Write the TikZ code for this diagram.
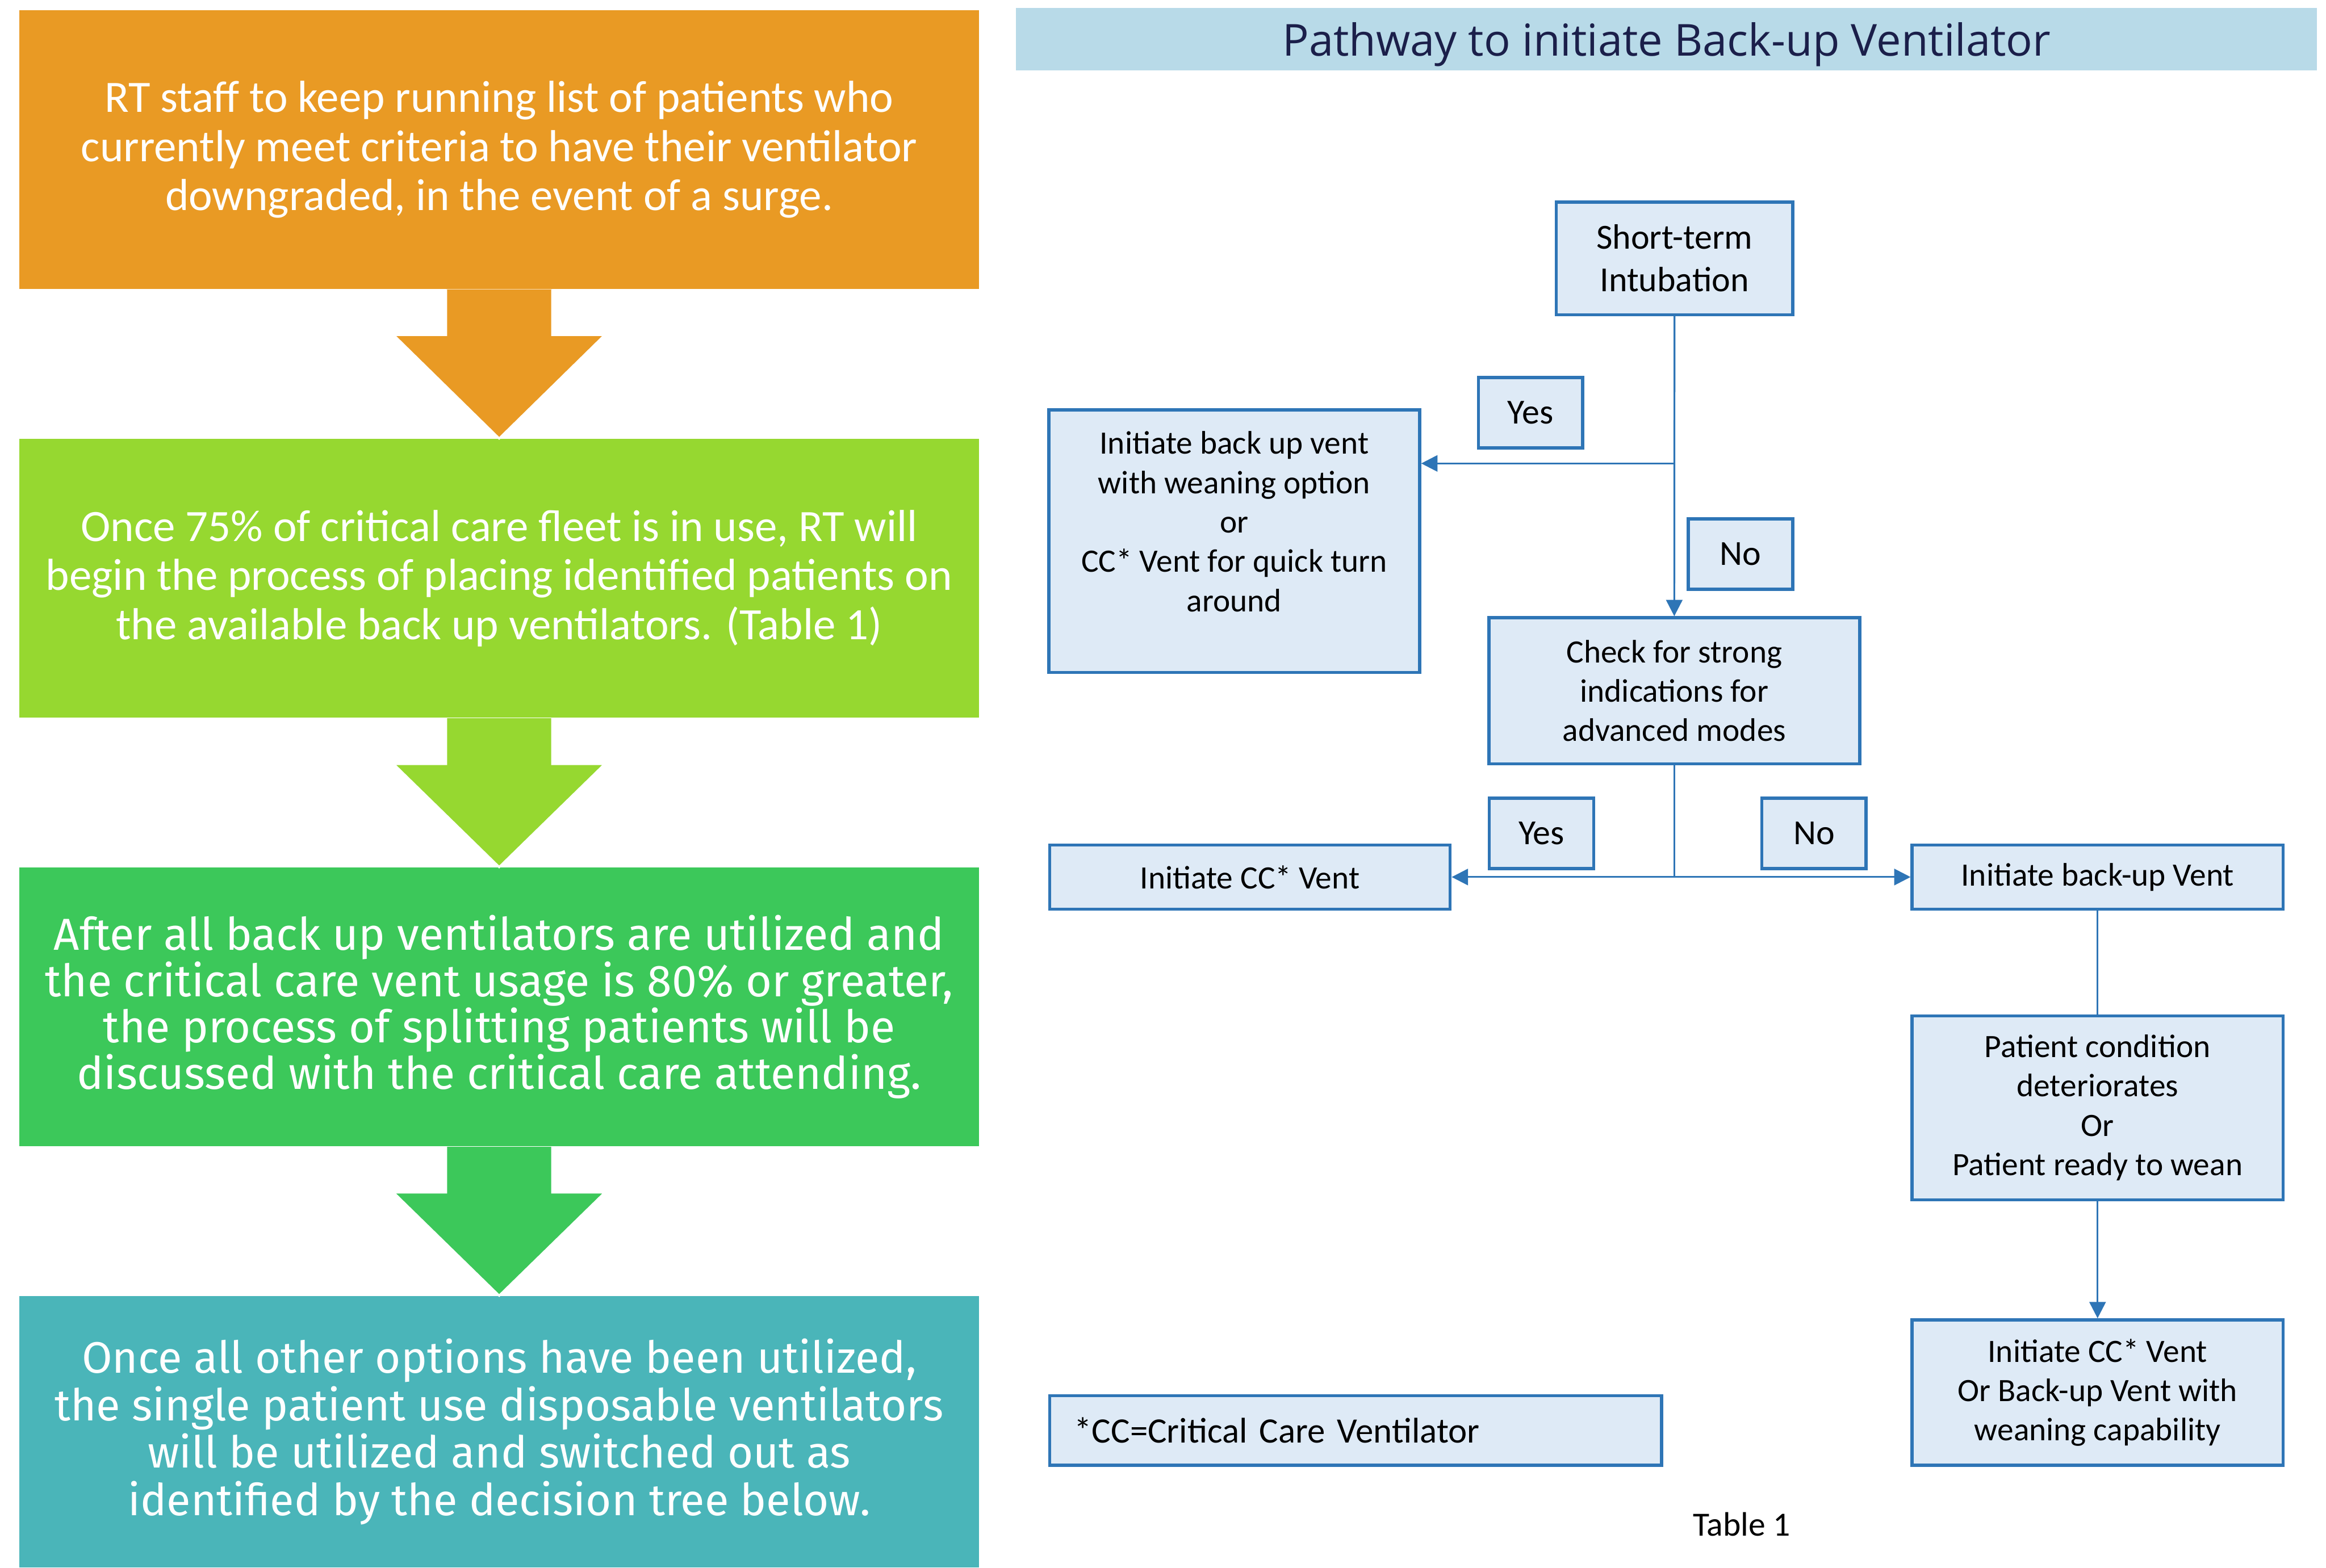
\documentclass[tikz,border=0pt]{standalone}
\usepackage{fontspec}
\setmainfont{Open Sans}
\newfontfamily\carl{Carlito}
\newfontfamily\fira{Fira Sans}
\usetikzlibrary{calc,arrows.meta}

\definecolor{stepOrange}{HTML}{E99A24}
\definecolor{stepLime}{HTML}{96D830}
\definecolor{stepGreen}{HTML}{3CC85A}
\definecolor{stepTeal}{HTML}{4AB5B9}
\definecolor{titleBar}{HTML}{B8DAE8}
\definecolor{titleInk}{HTML}{1B1F4A}
\definecolor{flowBlue}{HTML}{2E75B6}
\definecolor{flowFill}{HTML}{DEEAF6}

% big arrow from one step box to the next
\newcommand{\blockArrow}[3]{%
\filldraw[fill=#3, draw=white, line width=0.8pt]
 ($(#1.south)+(-7.15mm,0)$) -- ++(0,-6.16mm) -- ++(-7.08mm,0) -- (#2.north)
 -- ($(#1.south)+(14.23mm,-6.16mm)$) -- ++(-7.08mm,0) -- ++(0,6.16mm);}

\begin{document}
\begin{tikzpicture}[x=0.2mm,y=-0.2mm]
%styles
\tikzstyle{stepBox}=[rectangle, inner sep=0pt, minimum width=129.4mm, text=white, align=center]
\tikzstyle{flowBox}=[rectangle, draw=flowBlue, fill=flowFill, line width=1.2pt, inner sep=0pt, align=center, text=black, font=\carl\fontsize{12.5}{15.1}\selectfont]
\tikzstyle{answer}=[flowBox, minimum width=14.06mm, minimum height=9.5mm, font=\carl\fontsize{13.5}{16}\selectfont]
\tikzstyle{link}=[-{Triangle[length=2.2mm,width=2.2mm]}, flowBlue, line width=0.7pt]
\tikzstyle{plainLink}=[flowBlue, line width=0.7pt]

\useasboundingbox (0,0) rectangle (1568,1057);

%left column
\node[stepBox, fill=stepOrange, minimum height=37.54mm, font=\carl\fontsize{17.2}{18.8}\selectfont] (s1) at (336.5,100.85)
 {RT staff to keep running list of patients who\\currently meet criteria to have their ventilator\\downgraded, in the event of a surge.};
\node[stepBox, fill=stepLime, minimum height=37.6mm, font=\carl\fontsize{17.2}{18.8}\selectfont] (s2) at (336.5,390)
 {Once 75\% of critical care fleet is in use, RT will\\begin the process of placing identified patients on\\the available back up ventilators. (Table 1)};
\node[stepBox, fill=stepGreen, minimum height=37.6mm, font=\fira\fontsize{17.2}{17.8}\selectfont] (s3) at (336.5,679)
 {After all back up ventilators are utilized and\\the critical care vent usage is 80\% or greater,\\the process of splitting patients will be\\discussed with the critical care attending.};
\node[stepBox, fill=stepTeal, minimum height=36.6mm, font=\fira\fontsize{16.9}{18.2}\selectfont] (s4) at (336.5,965.5)
 {Once all other options have been utilized,\\the single patient use disposable ventilators\\will be utilized and switched out as\\identified by the decision tree below.};

\blockArrow{s1}{s2}{stepOrange}
\blockArrow{s2}{s3}{stepLime}
\blockArrow{s3}{s4}{stepGreen}

%title
\node[rectangle, fill=titleBar, minimum width=175.4mm, minimum height=8.4mm, inner sep=0pt, text height=5.5mm, text depth=0.98mm, text=titleInk, font=\fontsize{16.9}{18}\selectfont] (title) at (1123.5,26.4)
 {Pathway to initiate Back-up Ventilator};

%flow chart
\node[flowBox, minimum width=31.9mm, minimum height=15.2mm, font=\carl\fontsize{13.5}{16.4}\selectfont] (st) at (1128.8,174.2) {Short-term\\Intubation};
\node[flowBox, minimum width=50mm, minimum height=35.4mm] (ibv) at (832,364.9)
 {Initiate back up vent\\with weaning option\\or\\CC* Vent for quick turn\\around\\~};
\node[answer] (yes1) at (1031.75,278.35) {Yes};
\node[answer] (no1) at (1173.3,373.7) {No};
\node[flowBox, minimum width=50mm, minimum height=19.7mm] (chk) at (1128.65,465.8)
 {Check for strong\\indications for\\advanced modes};
\node[flowBox, minimum width=54mm, minimum height=8.64mm] (icc) at (842.55,591.4) {Initiate CC* Vent};
\node[answer] (yes2) at (1039.15,562) {Yes};
\node[answer] (no2) at (1222.85,562) {No};
\node[flowBox, minimum width=50mm, minimum height=8.64mm] (ibu) at (1414,591.4) {Initiate back-up Vent};
\node[flowBox, minimum width=50mm, minimum height=24.8mm] (pcd) at (1414,747)
 {Patient condition\\deteriorates\\Or\\Patient ready to wean};
\node[flowBox, minimum width=50mm, minimum height=19.6mm] (fin) at (1414,939)
 {Initiate CC* Vent\\Or Back-up Vent with\\weaning capability};
\node[flowBox, minimum width=82.5mm, minimum height=9.36mm, text width=75.9mm, inner xsep=3.3mm, align=left, font=\carl\fontsize{13.7}{16}\selectfont] (note) at (913.9,964.6)
 {*CC=Critical Care Ventilator};
\node[font=\carl\fontsize{13}{16}\selectfont] (tab) at (1174,1028) {Table 1};

%links
\coordinate (br1) at (st.south |- 0,312.5);
\coordinate (br2) at (chk.south |- icc.east);
\draw[link] (st.south) -- (chk.north);
\draw[link] (br1) -- (br1 -| ibv.east);
\draw[plainLink] (chk.south) -- (br2);
\draw[link] (br2) -- (icc.east);
\draw[link] (br2) -- (ibu.west);
\draw[plainLink] (ibu.south) -- (pcd.north);
\draw[link] (pcd.south) -- (fin.north);
\end{tikzpicture}
\end{document}
